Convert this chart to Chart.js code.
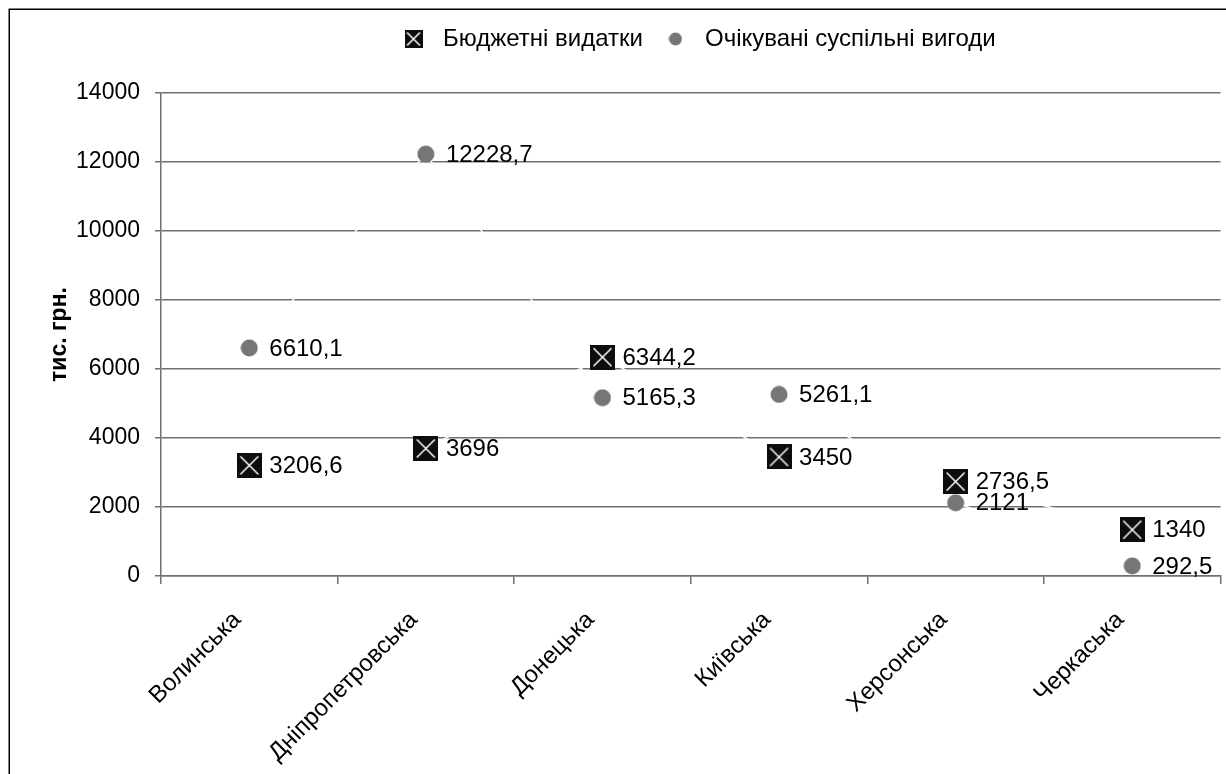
<!DOCTYPE html>
<html>
<head>
<meta charset="utf-8">
<title>Бюджетні видатки та очікувані суспільні вигоди</title>
<script src="https://cdn.jsdelivr.net/npm/chart.js@4.4.0/dist/chart.umd.min.js"></script>
<style>
  html, body { margin: 0; padding: 0; background: #fff; overflow: hidden; }
  #wrap { width: 1226px; height: 774px; position: relative; }
</style>
</head>
<body>
<div id="wrap"><canvas id="chart" width="1226" height="774"></canvas></div>
<script>
// Області
const regions = ['Волинська', 'Дніпропетровська', 'Донецька', 'Київська', 'Херсонська', 'Черкаська'];
// Бюджетні видатки, тис. грн.
const budgetSpending = [3206.6, 3696, 6344.2, 3450, 2736.5, 1340];
// Очікувані суспільні вигоди, тис. грн.
const expectedBenefits = [6610.1, 12228.7, 5165.3, 5261.1, 2121, 292.5];
const seriesNames = ['Бюджетні видатки', 'Очікувані суспільні вигоди'];
const yMin = 0, yMax = 14000, yStep = 2000;
const yTitle = 'тис. грн.';

const FONT = '"Liberation Sans", Arial, sans-serif';
Chart.defaults.font.family = FONT;
Chart.defaults.color = '#000';

// Marker images: black square with a white cross, grey dot
function crossBox(size) {
  const c = document.createElement('canvas');
  c.width = size; c.height = size;
  const g = c.getContext('2d');
  g.fillStyle = '#0d0d0d';
  g.fillRect(0, 0, size, size);
  g.strokeStyle = '#fff';
  g.lineWidth = 1.5;
  const m = size * 0.14;
  g.beginPath();
  g.moveTo(m, m); g.lineTo(size - m, size - m);
  g.moveTo(size - m, m); g.lineTo(m, size - m);
  g.stroke();
  return c;
}
function dot(size, color) {
  const c = document.createElement('canvas');
  c.width = size; c.height = size;
  const g = c.getContext('2d');
  g.fillStyle = color;
  g.beginPath();
  g.arc(size / 2, size / 2, size / 2 - 0.5, 0, Math.PI * 2);
  g.fill();
  return c;
}
const GREY_DOT = '#767676';
const pointMarks = [crossBox(25), dot(18, GREY_DOT)];
const legendMarks = [crossBox(18), dot(14, GREY_DOT)];

const fmt = v => String(v).replace('.', ',');

// White page with a thin black frame
const framePlugin = {
  id: 'frame',
  beforeDraw(chart) {
    const ctx = chart.ctx;
    ctx.save();
    ctx.fillStyle = '#fff';
    ctx.fillRect(0, 0, chart.width, chart.height);
    ctx.strokeStyle = '#000';
    ctx.lineWidth = 1.5;
    ctx.strokeRect(9.25, 9.25, chart.width + 20, chart.height + 20);
    ctx.restore();
  }
};

// Legend placement above the plot
const legendPlacement = {
  id: 'legendPlacement',
  afterLayout(chart) {
    const lg = chart.legend;
    if (!lg) return;
    const w = lg.width, h = lg.height;
    lg.left = 381; lg.right = lg.left + w;
    lg.top = 12; lg.bottom = lg.top + h;
  }
};

// Value labels to the right of each marker
const valueLabels = {
  id: 'valueLabels',
  afterDatasetsDraw(chart) {
    const ctx = chart.ctx;
    ctx.save();
    ctx.font = '24px ' + FONT;
    ctx.fillStyle = '#000';
    ctx.textAlign = 'left';
    ctx.textBaseline = 'middle';
    chart.data.datasets.forEach((ds, i) => {
      const meta = chart.getDatasetMeta(i);
      meta.data.forEach((pt, j) => {
        ctx.fillText(fmt(ds.data[j]), pt.x + 20, pt.y + 1);
      });
    });
    ctx.restore();
  }
};

new Chart(document.getElementById('chart'), {
  type: 'line',
  data: {
    labels: regions,
    datasets: [
      {
        label: seriesNames[0],
        data: budgetSpending,
        showLine: true,
        borderColor: '#fff',
        borderWidth: 1.5,
        pointStyle: pointMarks[0],
        backgroundColor: '#0d0d0d'
      },
      {
        label: seriesNames[1],
        data: expectedBenefits,
        showLine: true,
        borderColor: '#fff',
        borderWidth: 1.5,
        pointStyle: pointMarks[1],
        backgroundColor: GREY_DOT
      }
    ]
  },
  options: {
    responsive: false,
    animation: false,
    devicePixelRatio: 1,
    events: [],
    layout: { padding: { top: 44, left: 10, right: 3, bottom: 0 } },
    plugins: {
      tooltip: { enabled: false },
      legend: {
        position: 'top',
        align: 'start',
        labels: {
          usePointStyle: true,
          pointStyleWidth: 35,
          padding: 15,
          color: '#000',
          font: { size: 24 },
          generateLabels(chart) {
            const items = Chart.defaults.plugins.legend.labels.generateLabels(chart);
            items.forEach((it, i) => { it.pointStyle = legendMarks[i]; });
            return items;
          }
        }
      }
    },
    scales: {
      x: {
        type: 'category',
        offset: true,
        grid: {
          offset: true,
          drawOnChartArea: false,
          color: '#707070',
          lineWidth: 1.5,
          tickLength: 8
        },
        border: { color: '#707070', width: 1.5 },
        ticks: {
          autoSkip: false,
          minRotation: 45,
          maxRotation: 45,
          padding: 22,
          labelOffset: -12,
          color: '#000',
          font: { size: 24 }
        },
        afterFit(scale) { scale.height = 198; }
      },
      y: {
        min: yMin,
        max: yMax,
        grid: { color: '#707070', lineWidth: 1.5, tickLength: 6 },
        border: { color: '#707070', width: 1.5 },
        ticks: {
          stepSize: yStep,
          padding: 15,
          color: '#000',
          font: { size: 23 },
          callback: v => String(v)
        },
        title: {
          display: true,
          text: yTitle,
          color: '#000',
          font: { size: 23, weight: 'bold' },
          padding: { top: 36, bottom: 0 }
        },
        afterFit(scale) { scale.width = 151; }
      }
    }
  },
  plugins: [framePlugin, legendPlacement, valueLabels]
});
</script>
</body>
</html>
